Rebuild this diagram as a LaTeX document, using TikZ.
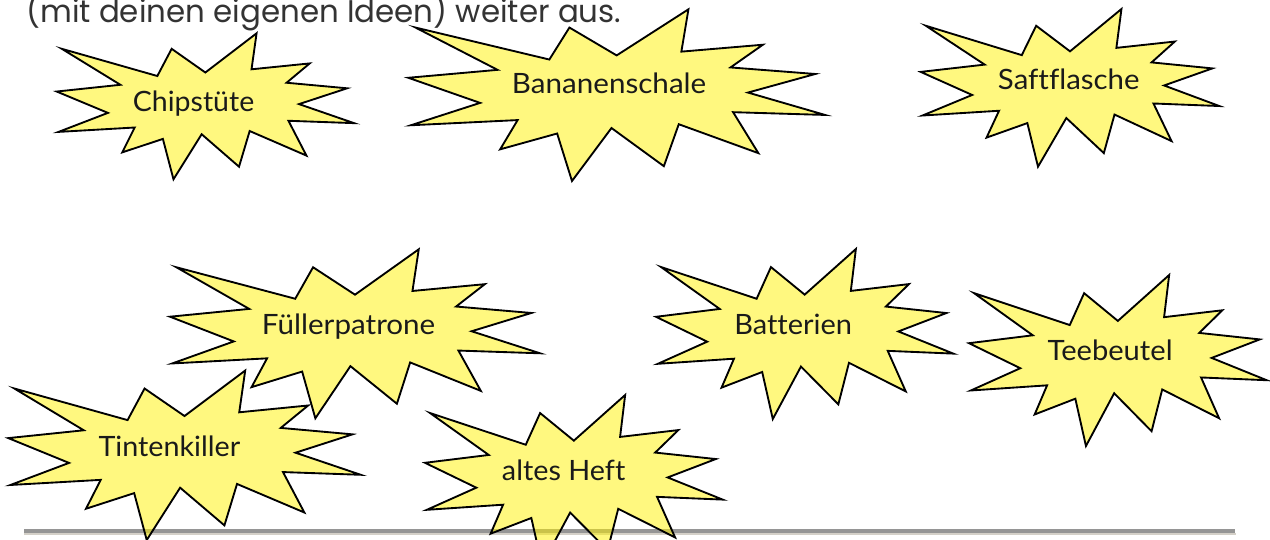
\documentclass[tikz,border=0pt]{standalone}
\usepackage{fontspec}
\setmainfont{Lato}[Ligatures={NoCommon}]
\newfontfamily\topfont{Poppins}[Ligatures={NoCommon}]
\usepackage{graphicx}
\newsavebox\fitbox
\newcommand\fitw[2]{\sbox\fitbox{#2}\pgfmathsetmacro\fitfx{#1*0.75/\the\wd\fitbox}\scalebox{\fitfx}[1]{\usebox\fitbox}}
\definecolor{lineDark}{HTML}{959595}
\definecolor{lineLight}{HTML}{D4D0C8}
\definecolor{txtGray}{HTML}{333333}
\definecolor{lblText}{HTML}{1A1A1A}
\tikzset{
  explo/.style={draw=black, line width=1.4pt, fill=yellow, fill opacity=0.5, draw opacity=1},
  lbl/.style={inner sep=0pt, anchor=base west, font=\fontsize{21}{25}\selectfont, text=lblText},
  toptext/.style={inner sep=0pt, anchor=base west, font=\topfont\fontsize{23.5}{28}\selectfont, text=txtGray},
}
\newcommand\drawburst[4]{%
 \begin{scope}[shift={(#1,#2)}, xscale=#3, yscale=#4]
 \draw[explo] (0.5,0.26852) -- (0.67231,0) -- (0.65532,0.24653) -- (0.85093,0.20634)
  -- (0.77324,0.33866) -- (0.97671,0.37671) -- (0.81514,0.48495) -- (1,0.61528)
  -- (0.77949,0.59917) -- (0.84005,0.83773) -- (0.64907,0.66931) -- (0.61329,0.91375)
  -- (0.48759,0.69144) -- (0.39282,1) -- (0.35718,0.72347) -- (0.22046,0.8156)
  -- (0.26236,0.64523) -- (0.00625,0.67532) -- (0.17231,0.54514) -- (0,0.39884)
  -- (0.21421,0.35264) -- (0.01713,0.10625) -- (0.33852,0.29259) -- (0.38667,0.10625) -- cycle;
 \end{scope}}
\begin{document}
\begin{tikzpicture}[x=0.75pt, y=-0.75pt]
\useasboundingbox (0,0) rectangle (1270,539);
\clip (0,0) rectangle (1270,539);
\node[toptext] (intro) at (26,22.5) {\fitw{595}{(mit deinen eigenen Ideen) weiter aus.}};
% horizontal rule
\fill[lineDark] (24,528.5) rectangle (1235,532.5);
\fill[lineLight] (24,532.5) rectangle (1236,535);
% explosions
\drawburst{56.7}{33.3}{297.3}{146}
\drawburst{408.3}{9.3}{416.7}{171.7}
\drawburst{920.7}{9}{298.6}{157.7}
\drawburst{170}{249.3}{370}{169}
\drawburst{656}{249}{297.3}{170}
\drawburst{969}{275}{297.7}{171}
\drawburst{8.3}{370.5}{352.4}{169.5}
\drawburst{425}{395}{297.7}{170}
% labels
\node[lbl] (chip) at (132.7,111.7) {\fitw{121.3}{Chipstüte}};
\node[lbl] (banane) at (511.7,93.3) {\fitw{194.3}{Bananenschale}};
\node[lbl] (saft) at (997.7,89.3) {\fitw{141.6}{Saftflasche}};
\node[lbl] (fueller) at (261.7,334) {\fitw{173.3}{Füllerpatrone}};
\node[lbl] (batt) at (734,334) {\fitw{117.7}{Batterien}};
\node[lbl] (tee) at (1047.3,360.7) {\fitw{125}{Teebeutel}};
\node[lbl] (tinte) at (98.3,456.7) {\fitw{141.7}{Tintenkiller}};
\node[lbl] (heft) at (501.7,480) {\fitw{123.3}{altes Heft}};
\end{tikzpicture}
\end{document}
